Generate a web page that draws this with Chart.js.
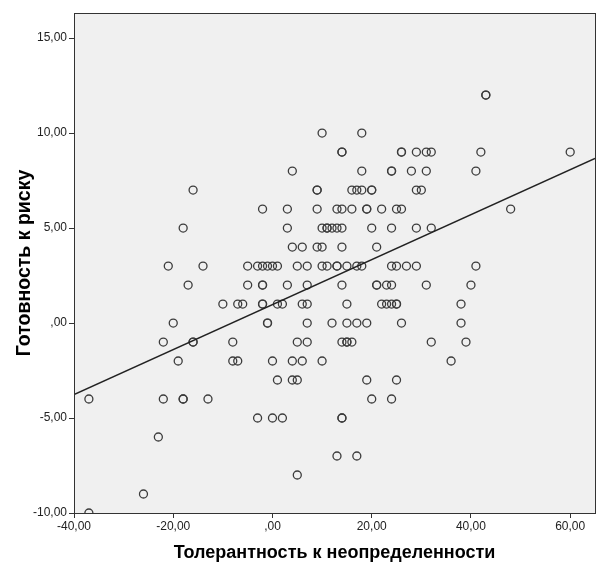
<!DOCTYPE html>
<html>
<head>
<meta charset="utf-8">
<script src="https://cdn.jsdelivr.net/npm/chart.js@4/dist/chart.umd.min.js"></script>
<style>
  body { margin: 0; background: #fff; }
  #wrap { width: 603px; height: 569px; }
</style>
</head>
<body>
<div id="wrap"><canvas id="scatter" width="603" height="569"></canvas></div>
<script>
// Observed points: tolerance (x) and risk readiness (y), read row by row
const tolerance = [
    43, 43,
    10, 18,
    14, 14, 26, 26, 29, 31, 32, 42, 60,
    4, 18, 24, 24, 28, 31, 41,
    -16, 9, 9, 16, 17, 18, 20, 20, 29, 30,
    -2, 3, 9, 13, 14, 16, 19, 19, 22, 25, 26, 48,
    -18, 3, 10, 11, 11, 12, 13, 14, 20, 24, 29, 32,
    4, 6, 9, 10, 14, 21,
    -21, -14, -5, -3, -2, -1, 0, 1, 5, 7, 10, 11, 13, 13, 15, 17, 18, 24, 25, 27, 29, 41,
    -17, -5, -2, -2, 3, 7, 14, 21, 21, 23, 24, 31, 40,
    -10, -7, -6, -2, -2, 1, 2, 6, 7, 15, 22, 23, 24, 25, 25, 38,
    -20, -1, -1, 7, 12, 15, 17, 19, 26, 38,
    -22, -16, -16, -8, 5, 7, 14, 15, 15, 16, 32, 39,
    -19, -8, -7, 0, 4, 6, 10, 36,
    1, 4, 5, 19, 25,
    -37, -22, -18, -18, -13, 20, 24,
    -3, 0, 2, 14, 14,
    -23,
    13, 17,
    5,
    -26,
    -37
];
const riskReadiness = [
    12, 12,
    10, 10,
    9, 9, 9, 9, 9, 9, 9, 9, 9,
    8, 8, 8, 8, 8, 8, 8,
    7, 7, 7, 7, 7, 7, 7, 7, 7, 7,
    6, 6, 6, 6, 6, 6, 6, 6, 6, 6, 6, 6,
    5, 5, 5, 5, 5, 5, 5, 5, 5, 5, 5, 5,
    4, 4, 4, 4, 4, 4,
    3, 3, 3, 3, 3, 3, 3, 3, 3, 3, 3, 3, 3, 3, 3, 3, 3, 3, 3, 3, 3, 3,
    2, 2, 2, 2, 2, 2, 2, 2, 2, 2, 2, 2, 2,
    1, 1, 1, 1, 1, 1, 1, 1, 1, 1, 1, 1, 1, 1, 1, 1,
    0, 0, 0, 0, 0, 0, 0, 0, 0, 0,
    -1, -1, -1, -1, -1, -1, -1, -1, -1, -1, -1, -1,
    -2, -2, -2, -2, -2, -2, -2, -2,
    -3, -3, -3, -3, -3,
    -4, -4, -4, -4, -4, -4, -4,
    -5, -5, -5, -5, -5,
    -6,
    -7, -7,
    -8,
    -9,
    -10
];

// Fit line as drawn at the plot edges
const fitX = [-40, 65];
const fitY = [-3.77, 8.66];

// Axis ticks
const xTicks = [-40, -20, 0, 20, 40, 60];
const yTicks = [-10, -5, 0, 5, 10, 15];

const pointData = tolerance.map((x, i) => ({ x: x, y: riskReadiness[i] }));
const lineData = fitX.map((x, i) => ({ x: x, y: fitY[i] }));

// SPSS style number labels: 0 -> ",00", 20 -> "20,00"
function spssLabel(v) {
    let s = Math.abs(v).toFixed(2).replace('.', ',');
    if (s.startsWith('0,')) s = s.slice(1);
    return (v < 0 ? '-' : '') + s;
}

// Grey plot area with a dark frame
const plotFrame = {
    id: 'plotFrame',
    beforeDraw(chart) {
        const { ctx, chartArea: a } = chart;
        ctx.save();
        ctx.fillStyle = '#ffffff';
        ctx.fillRect(0, 0, chart.width, chart.height);
        ctx.fillStyle = '#f0f0f0';
        ctx.fillRect(a.left, a.top, a.right - a.left, a.bottom - a.top);
        ctx.restore();
    },
    afterDraw(chart) {
        const { ctx, chartArea: a } = chart;
        ctx.save();
        ctx.strokeStyle = '#333333';
        ctx.lineWidth = 1;
        ctx.strokeRect(Math.round(a.left) + 0.5, Math.round(a.top) + 0.5,
            Math.round(a.right - a.left), Math.round(a.bottom - a.top));
        ctx.restore();
    }
};

const fontFamily = 'Arial, "Liberation Sans", sans-serif';
const tickFont = { family: fontFamily, size: 12 };

const ctx = document.getElementById('scatter').getContext('2d');
const chart = new Chart(ctx, {
    type: 'scatter',
    data: {
        datasets: [
            {
                type: 'line',
                data: lineData,
                borderColor: '#222222',
                borderWidth: 1.5,
                pointRadius: 0,
                fill: false
            },
            {
                data: pointData,
                pointRadius: 4,
                pointStyle: 'circle',
                borderColor: '#3c3c3c',
                borderWidth: 1.3,
                backgroundColor: 'rgba(0,0,0,0)'
            }
        ]
    },
    options: {
        responsive: false,
        animation: false,
        layout: { padding: { left: 0, top: 13, right: 8, bottom: 0 } },
        plugins: {
            legend: { display: false },
            tooltip: { enabled: false }
        },
        scales: {
            x: {
                type: 'linear',
                min: -40,
                max: 65,
                afterBuildTicks: axis => { axis.ticks = xTicks.map(v => ({ value: v })); },
                afterFit: axis => { axis.height = 56; },
                grid: { drawOnChartArea: false, drawTicks: true, tickLength: 5, color: '#333333' },
                border: { color: '#333333' },
                ticks: { font: tickFont, color: '#222222', padding: 1, maxRotation: 0, callback: v => spssLabel(v) },
                title: { display: true, text: 'Толерантность к неопределенности', font: { family: fontFamily, size: 18, weight: 'bold' }, color: '#000000', padding: { top: 4, bottom: 5 } }
            },
            y: {
                type: 'linear',
                min: -10,
                max: 16.32,
                afterBuildTicks: axis => { axis.ticks = yTicks.map(v => ({ value: v })); },
                afterFit: axis => { axis.width = 74; },
                grid: { drawOnChartArea: false, drawTicks: true, tickLength: 5, color: '#333333' },
                border: { color: '#333333' },
                ticks: { font: tickFont, color: '#222222', padding: 2, callback: v => spssLabel(v) },
                title: { display: true, text: 'Готовность к риску', font: { family: fontFamily, size: 19.5, weight: 'bold' }, color: '#000000', padding: { top: 13, bottom: 4 } }
            }
        }
    },
    plugins: [plotFrame]
});
</script>
</body>
</html>
